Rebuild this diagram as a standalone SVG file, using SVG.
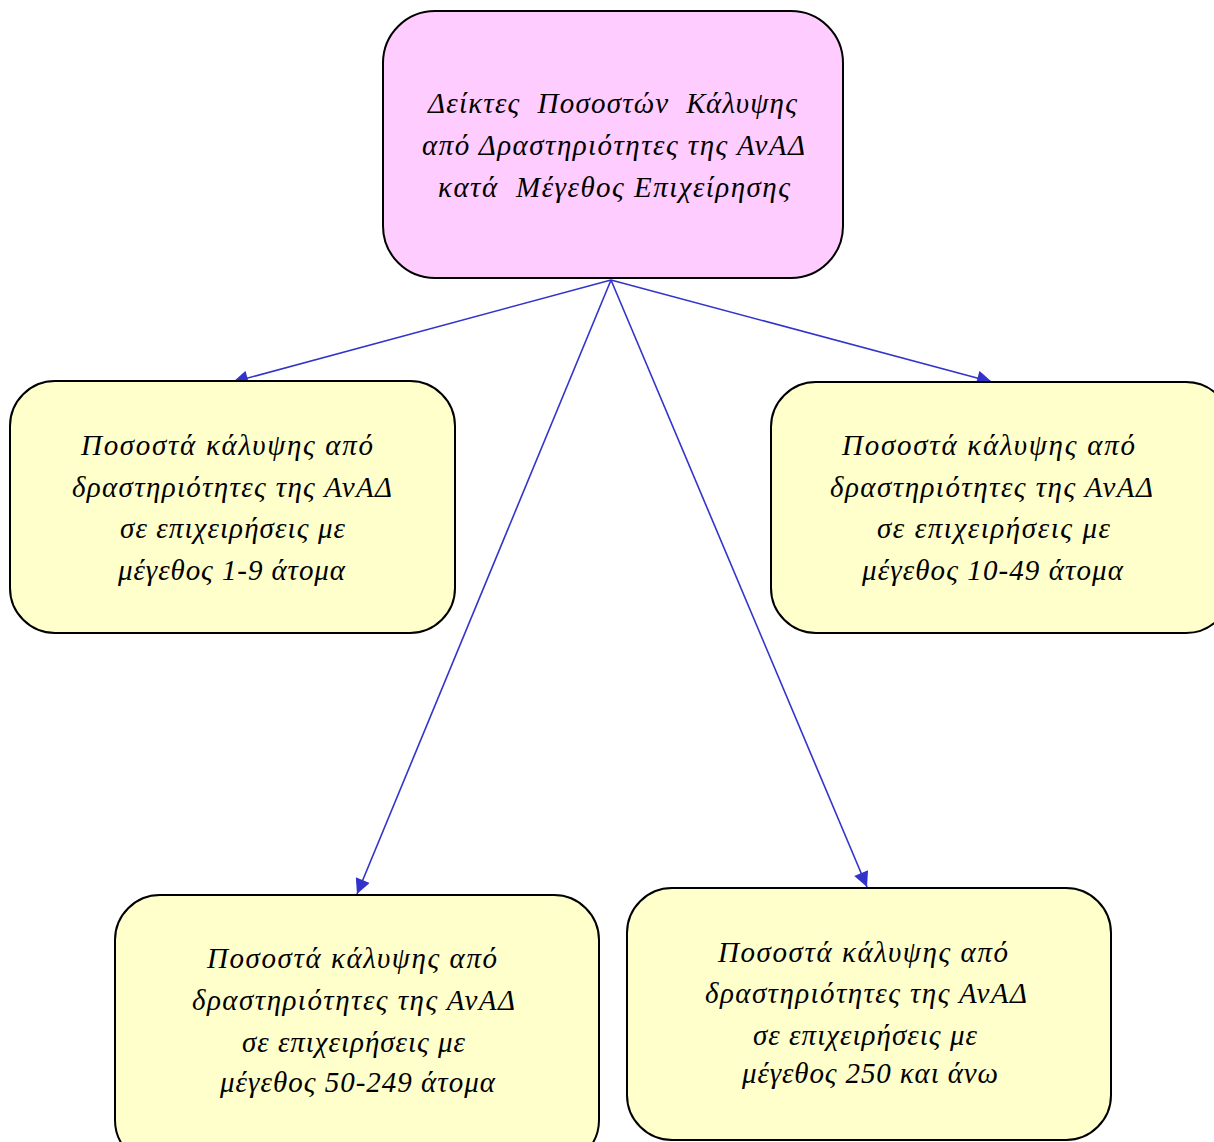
<svg xmlns="http://www.w3.org/2000/svg" width="1214" height="1142" viewBox="0 0 1214 1142">
<style>
.box{stroke:#000;stroke-width:2}
.top{fill:#FFCCFF}
.leaf{fill:#FFFFCC}
text{font-family:"Liberation Serif","DejaVu Serif",serif;font-style:italic;font-size:29px;fill:#000;text-anchor:middle;white-space:pre}
.edge{stroke:#3333CC;stroke-width:1.6;fill:none;marker-end:url(#ah)}
</style>
<defs>
<marker id="ah" viewBox="0 0 10 10" refX="10" refY="5" markerWidth="16" markerHeight="15" markerUnits="userSpaceOnUse" orient="auto">
<path d="M0,0 L10,5 L0,10 z" fill="#3333CC"/>
</marker>
</defs>
<rect width="1214" height="1142" fill="#fff"/>
<g id="connectors">
<line class="edge" x1="611" y1="280" x2="233" y2="382"/>
<line class="edge" x1="611" y1="280" x2="992" y2="382"/>
<line class="edge" x1="611" y1="280" x2="357" y2="894"/>
<line class="edge" x1="611" y1="280" x2="867" y2="887"/>
</g>
<g id="root">
<rect class="box top" x="383" y="11" width="460" height="267" rx="52"/>
<text x="612.5" y="113" xml:space="preserve" textLength="369" lengthAdjust="spacing">Δείκτες  Ποσοστών  Κάλυψης</text>
<text x="613.5" y="155" textLength="383" lengthAdjust="spacing">από Δραστηριότητες της ΑνΑΔ</text>
<text x="614" y="197" xml:space="preserve" textLength="352" lengthAdjust="spacing">κατά  Μέγεθος Επιχείρησης</text>
</g>
<g id="size-1-9">
<rect class="box leaf" x="10" y="381" width="445" height="252" rx="45"/>
<text x="227" y="455" textLength="292" lengthAdjust="spacing">Ποσοστά κάλυψης από</text>
<text x="232" y="497" textLength="320" lengthAdjust="spacing">δραστηριότητες της ΑνΑΔ</text>
<text x="232.5" y="538" textLength="225" lengthAdjust="spacing">σε επιχειρήσεις με</text>
<text x="231.5" y="580" textLength="227" lengthAdjust="spacing">μέγεθος 1-9 άτομα</text>
</g>
<g id="size-10-49">
<rect class="box leaf" x="771" y="382" width="460" height="251" rx="45"/>
<text x="988.5" y="455" textLength="293" lengthAdjust="spacing">Ποσοστά κάλυψης από</text>
<text x="991.5" y="497" textLength="323" lengthAdjust="spacing">δραστηριότητες της ΑνΑΔ</text>
<text x="993.5" y="538" textLength="233" lengthAdjust="spacing">σε επιχειρήσεις με</text>
<text x="992.5" y="580" textLength="261" lengthAdjust="spacing">μέγεθος 10-49 άτομα</text>
</g>
<g id="size-50-249">
<rect class="box leaf" x="115" y="895" width="484" height="270" rx="45"/>
<text x="352" y="968" textLength="290" lengthAdjust="spacing">Ποσοστά κάλυψης από</text>
<text x="353.5" y="1010" textLength="323" lengthAdjust="spacing">δραστηριότητες της ΑνΑΔ</text>
<text x="353.5" y="1052" textLength="223" lengthAdjust="spacing">σε επιχειρήσεις με</text>
<text x="357.5" y="1092" textLength="275" lengthAdjust="spacing">μέγεθος 50-249 άτομα</text>
</g>
<g id="size-250-plus">
<rect class="box leaf" x="627" y="888" width="484" height="252" rx="45"/>
<text x="863" y="962" textLength="290" lengthAdjust="spacing">Ποσοστά κάλυψης από</text>
<text x="866" y="1003" textLength="322" lengthAdjust="spacing">δραστηριότητες της ΑνΑΔ</text>
<text x="865" y="1045" textLength="224" lengthAdjust="spacing">σε επιχειρήσεις με</text>
<text x="870" y="1083" textLength="256" lengthAdjust="spacing">μέγεθος 250 και άνω</text>
</g>
</svg>
